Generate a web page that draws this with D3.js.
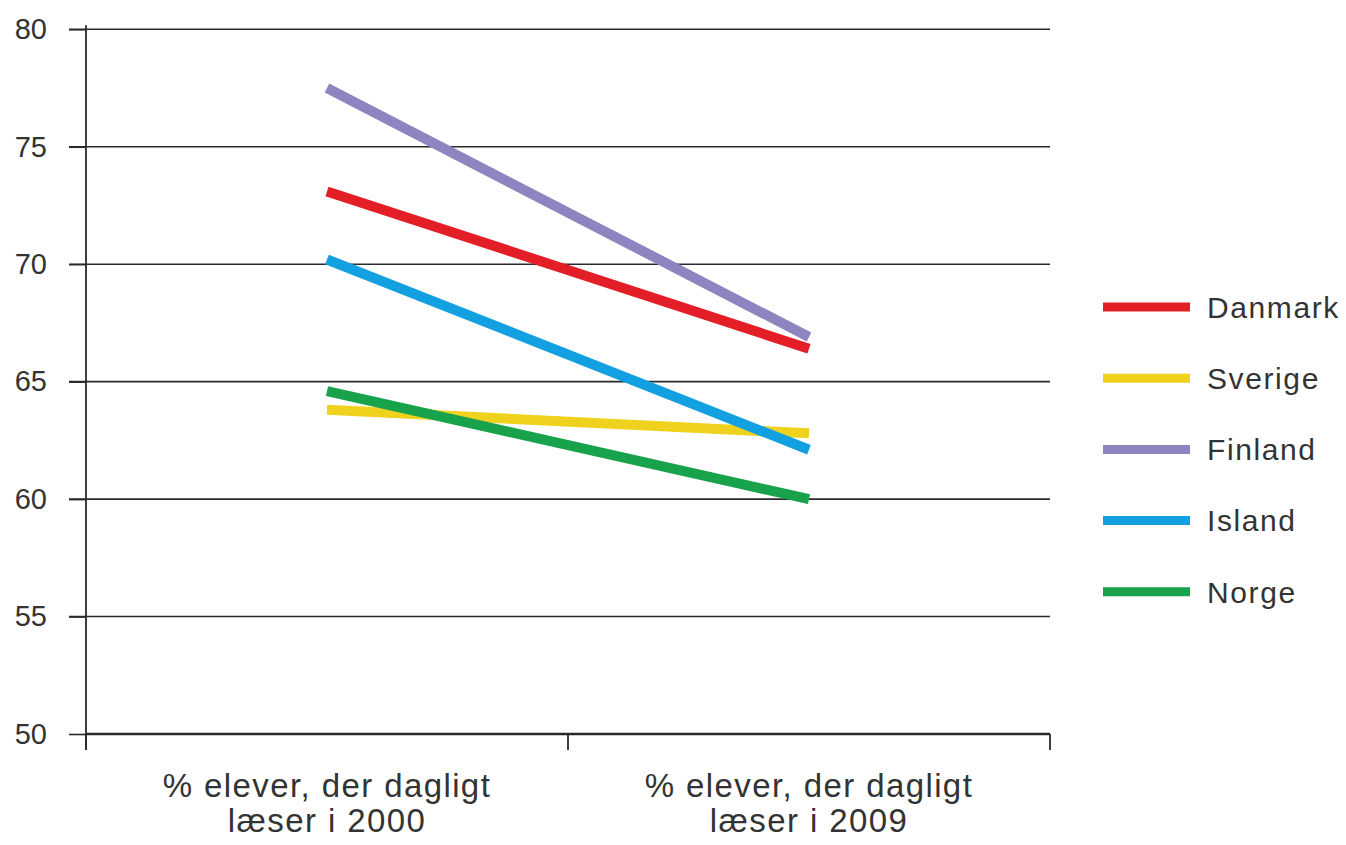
<!DOCTYPE html>
<html><head><meta charset="utf-8">
<script src="https://cdn.jsdelivr.net/npm/d3@7"></script>
<style>
html,body{margin:0;padding:0;background:#fff;}
svg{display:block;}
text{font-family:"Liberation Sans",Arial,sans-serif;fill:#333;}
</style></head>
<body>
<svg id="c" width="1346" height="845"></svg>
<script>
const categories = ["% elever, der dagligt|læser i 2000", "% elever, der dagligt|læser i 2009"];
const countries = ["Danmark", "Sverige", "Finland", "Island", "Norge"];
const colors = ["#e31e26", "#efd21e", "#8d84c0", "#13a0e0", "#17a24b"];
const values2000 = [73.1, 63.8, 77.5, 70.2, 64.6];
const values2009 = [66.4, 62.8, 66.9, 62.1, 60.0];
const yTicks = [50, 55, 60, 65, 70, 75, 80];

const svg = d3.select("#c");
const x = d3.scalePoint().domain(categories).range([86, 1050]).padding(0.5);
const y = d3.scaleLinear().domain([50, 80]).range([734, 29.3]);

// gridlines
svg.append("g").selectAll("line").data(yTicks.filter(t => t > 50)).join("line")
  .attr("x1", 69).attr("x2", 1050)
  .attr("y1", d => y(d)).attr("y2", d => y(d))
  .attr("stroke", "#2a2a2a").attr("stroke-width", 1.6);

// y axis
const yAxis = svg.append("g").attr("transform", "translate(86,0)")
  .call(d3.axisLeft(y).tickValues(yTicks).tickSize(17).tickPadding(22));
yAxis.select(".domain").attr("d", `M0,${y(80)-4}V750`).attr("stroke", "#2a2a2a").attr("stroke-width", 1.8);
yAxis.selectAll(".tick line").attr("stroke", "#2a2a2a").attr("stroke-width", 1.6);
yAxis.selectAll(".tick text").style("font-size", "29px").attr("fill", "#333")
  .style("font-family", '"Liberation Sans",Arial,sans-serif');

// x axis
const xAxis = svg.append("g").attr("transform", `translate(0,${y(50)})`)
  .call(d3.axisBottom(x).tickSize(0).tickFormat(""));
xAxis.select(".domain").attr("d", "M86,0H1050").attr("stroke", "#2a2a2a").attr("stroke-width", 2.4);
const step = x.step();
const bounds = [86].concat(categories.map(c => x(c) + step / 2));
svg.append("g").selectAll("line").data(bounds).join("line")
  .attr("x1", d => d).attr("x2", d => d)
  .attr("y1", y(50)).attr("y2", 750)
  .attr("stroke", "#2a2a2a").attr("stroke-width", 1.8);

// category labels
const cl = svg.append("g").selectAll("text").data(categories).join("text")
  .attr("x", d => x(d)).attr("y", 797)
  .attr("text-anchor", "middle").style("font-size", "33px").style("letter-spacing", "1.4px");
cl.each(function(d) {
  const parts = d.split("|");
  d3.select(this).selectAll("tspan").data(parts).join("tspan")
    .attr("x", x(d)).attr("dy", (p, i) => i === 0 ? 0 : 35).text(p => p);
});

// series lines
const series = countries.map((c, i) => ({name: c, color: colors[i], vals: [values2000[i], values2009[i]]}));
const line = d3.line().x((d, i) => x(categories[i])).y(d => y(d));
svg.append("g").selectAll("path").data(series).join("path")
  .attr("d", d => line(d.vals))
  .attr("fill", "none").attr("stroke", d => d.color).attr("stroke-width", 10);

// legend
const lg = svg.append("g").selectAll("g").data(series).join("g")
  .attr("transform", (d, i) => `translate(1103,${307 + i * 71.2})`);
lg.append("line").attr("x1", 0).attr("x2", 87).attr("y1", 0).attr("y2", 0)
  .attr("stroke", d => d.color).attr("stroke-width", 9);
lg.append("text").attr("x", 104).attr("y", 0).attr("dy", "0.36em")
  .style("font-size", "30px").style("letter-spacing", "1.6px").text(d => d.name);
</script>
</body></html>
